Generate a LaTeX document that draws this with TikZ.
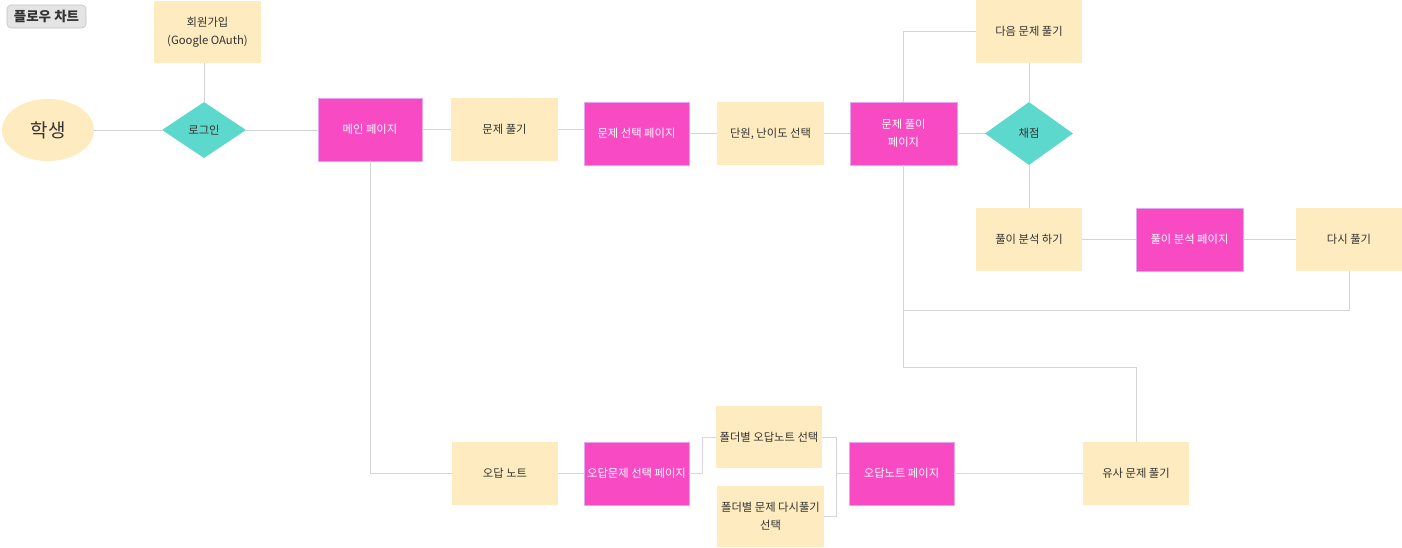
\documentclass[tikz,border=0pt]{standalone}
\usepackage{fontspec}
\setmainfont{Noto Sans CJK KR}
\usetikzlibrary{shapes.geometric}
\definecolor{ycol}{HTML}{FEEBBF}
\definecolor{mcol}{HTML}{F84AC2}
\definecolor{mborder}{HTML}{E2A6F2}
\definecolor{tcol}{HTML}{5CD8CC}
\definecolor{lgray}{HTML}{D4D4D4}
\definecolor{lpur}{HTML}{DCD4F0}
\definecolor{txt}{HTML}{333333}
\definecolor{titlefill}{HTML}{E4E4E4}
\definecolor{titledraw}{HTML}{C4C4C4}
\begin{document}
\begin{tikzpicture}[x=1pt,y=-1pt,
  basefont/.style={font=\fontsize{11.3}{18}\selectfont},
  yelbox/.style={rectangle, fill=ycol, minimum width=106pt, minimum height=63pt, inner sep=0pt, align=center, basefont, text=txt},
  magbox/.style={rectangle, fill=mcol, draw=mborder, line width=0.5pt, minimum width=105pt, minimum height=63pt, inner sep=0pt, align=center, basefont, text=white},
  decide/.style={diamond, fill=tcol, inner sep=0pt, basefont, text=txt},
  conn/.style={draw=lgray, line width=0.9pt},
  pconn/.style={draw=lpur, line width=0.9pt}]
\useasboundingbox (0,0) rectangle (1402,547);
\fill[white] (0,0) rectangle (1402,547);

\node[rectangle, rounded corners=4pt, fill=titlefill, draw=titledraw, line width=0.6pt, minimum width=79pt, minimum height=23pt, inner sep=0pt, font=\fontsize{13.5}{15}\selectfont\bfseries, text=txt] (title) at (46.5,16.5) {플로우 차트};

\node[yelbox, minimum width=107pt, minimum height=62pt] (join) at (207.5,32) {회원가입\\(Google OAuth)};
\node[ellipse, fill=ycol, minimum width=92pt, minimum height=62pt, inner sep=0pt, font=\fontsize{19}{21}\selectfont, text=txt] (student) at (48,130) {학생};
\node[decide, minimum width=84pt, minimum height=56pt] (login) at (204,130) {로그인};
\node[magbox, minimum width=104pt] (main) at (370,129.5) {메인 페이지};
\node[yelbox, minimum width=107pt] (solve) at (504.5,129.5) {문제 풀기};
\node[magbox] (selp) at (636.5,133.5) {문제 선택 페이지};
\node[yelbox, minimum width=107pt] (unit) at (770.5,133.5) {단원, 난이도 선택};
\node[magbox, minimum width=107pt] (solp) at (903.5,133.5) {문제 풀이\\페이지};
\node[decide, minimum width=88pt, minimum height=63pt] (grade) at (1029,133.5) {채점};
\node[yelbox] (next) at (1029,31.5) {다음 문제 풀기};
\node[yelbox] (anal) at (1029,239.5) {풀이 분석 하기};
\node[magbox, minimum width=107pt] (analp) at (1189.5,239.5) {풀이 분석 페이지};
\node[yelbox] (retry) at (1349,239.5) {다시 풀기};
\node[yelbox] (wrong) at (505,473.5) {오답 노트};
\node[magbox] (wsel) at (636.5,473.5) {오답문제 선택 페이지};
\node[yelbox, minimum height=62pt] (fold1) at (769,437) {폴더별 오답노트 선택};
\node[yelbox, minimum width=107pt, minimum height=61pt] (fold2) at (770.5,516.5) {폴더별 문제 다시풀기\\선택};
\node[magbox] (wpage) at (901.5,473.5) {오답노트 페이지};
\node[yelbox] (similar) at (1136,473.5) {유사 문제 풀기};

\coordinate (loopy) at (0,310);
\coordinate (simy) at (0,367);

\draw[conn] (student) -- (login);
\draw[conn] (login.north |- join.south) -- (login.north);
\draw[conn] (login.east) -- (login.east -| main.west);
\draw[conn] (main) -- (solve);
\draw[conn] (solve.east) -- (solve.east -| selp.west);
\draw[conn] (selp) -- (unit);
\draw[conn] (unit) -- (solp);
\draw[conn] (solp) -- (grade);
\draw[conn] (next) -- (grade);
\draw[conn] (grade) -- (anal);
\draw[conn] (anal) -- (analp);
\draw[conn] (analp) -- (retry);
\draw[conn] (retry.south) -- (retry.south |- loopy) -- (solp.south |- loopy) -- (solp.south);
\draw[conn] (next.west) -| (solp.north);
\draw[conn] (solp.south) -- (solp.south |- simy) -| (similar.north);
\draw[conn] (main.south) |- (wrong.west);
\draw[conn] (wrong) -- (wsel);
\draw[pconn] (wsel.east) -- ++(13,0) |- (fold1.west);
\draw[conn] (fold1.east) -- ++(14,0) |- (wpage.west);
\draw[conn] (fold2.east) -- ++(12,0) |- (wpage.west);
\draw[pconn] (wpage) -- (similar);
\end{tikzpicture}
\end{document}
